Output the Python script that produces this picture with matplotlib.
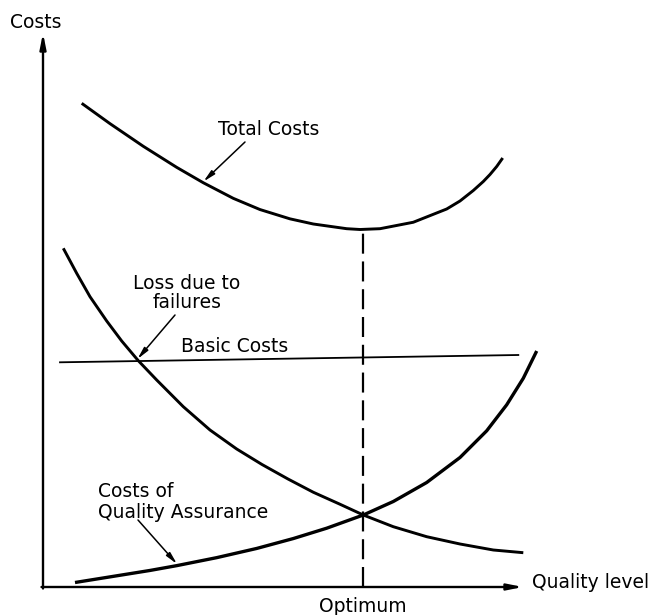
import matplotlib
matplotlib.use("Agg")
import matplotlib.pyplot as plt

# ---- data (arbitrary units: quality level 0..100, costs 0..110) ----
total_x = [7.74, 13.4, 20.06, 26.74, 32.06, 38.06, 43.4, 49.4, 54.06, 60.74, 63.4,
           67.4, 74.06, 80.74, 83.4, 86.06, 88.06, 89.4, 90.74, 91.94]
total_y = [96.74, 92.67, 88.14, 83.93, 80.85, 77.73, 75.49, 73.63, 72.6, 71.66, 71.5,
           71.66, 72.95, 75.6, 77.2, 79.3, 81.1, 82.5, 84.1, 85.8]

loss_x = [4.06, 6.74, 9.4, 12.74, 15.74, 19.06, 22.74, 28.06, 33.4, 38.74, 43.8,
          49.0, 54.06, 59.4, 64.06, 70.06, 76.74, 83.4, 90.06, 96.06]
loss_y = [67.74, 62.74, 58.06, 53.2, 49.2, 45.26, 41.4, 36.06, 31.4, 27.6, 24.5,
          21.6, 18.95, 16.55, 14.4, 12.06, 10.06, 8.6, 7.4, 6.86]

qa_x = [6.4, 14.74, 21.4, 26.74, 34.74, 42.74, 50.06, 56.74, 64.06, 70.06, 76.74,
        83.4, 88.74, 92.74, 96.06, 98.74]
qa_y = [0.9, 2.24, 3.31, 4.27, 5.87, 7.71, 9.69, 11.76, 14.4, 17.1, 20.9,
        25.9, 31.24, 36.44, 41.75, 47.2]

basic_x = [3.4, 95.06]
basic_y = [44.94, 46.4]

optimum_x = 64.0
optimum_cost = 71.5

# ---- figure ----
fig = plt.figure(figsize=(6.53, 6.15), dpi=100)
ax = fig.add_axes([0, 0, 1, 1])
ax.set_xlim(-8.6, 122.0)
ax.set_ylim(-5.6, 117.4)
ax.axis("off")

lw = 2.1
style = dict(color="black", solid_capstyle="butt", solid_joinstyle="round")
ax.plot(total_x, total_y, lw=lw, **style)
ax.plot(loss_x, loss_y, lw=lw, **style)
ax.plot(qa_x, qa_y, lw=lw + 0.3, **style)
ax.plot(basic_x, basic_y, color="black", lw=1.3)
ax.plot([optimum_x, optimum_x], [0, optimum_cost], color="black", lw=1.6,
        dashes=(9.0, 3.5))

# axes with arrows
ax.annotate("", xy=(0, 110.8), xytext=(0, -0.3),
            arrowprops=dict(arrowstyle="-|>,head_length=0.9,head_width=0.18",
                            lw=1.7, color="black", shrinkA=0, shrinkB=0))
ax.annotate("", xy=(96.0, 0), xytext=(-0.3, 0),
            arrowprops=dict(arrowstyle="-|>,head_length=0.9,head_width=0.18",
                            lw=1.7, color="black", shrinkA=0, shrinkB=0))

fs = 13.5
ax.text(-6.6, 112.8, "Costs", fontsize=fs, ha="left", va="center")
ax.text(97.8, 0.8, "Quality level", fontsize=fs, ha="left", va="center")
ax.text(optimum_x, -3.9, "Optimum", fontsize=fs, ha="center", va="center")
ax.text(35.0, 91.4, "Total Costs", fontsize=fs, ha="left", va="center")
ax.text(28.8, 58.8, "Loss due to\nfailures", fontsize=fs, ha="center", va="center",
        multialignment="center", linespacing=1.0)
ax.text(38.4, 48.1, "Basic Costs", fontsize=fs, ha="center", va="center")
ax.text(11.0, 17.0, "Costs of\nQuality Assurance", fontsize=fs, ha="left", va="center",
        multialignment="left", linespacing=1.1)

arrow_kw = dict(arrowstyle="-|>,head_length=0.7,head_width=0.15", lw=1.1,
                color="black", shrinkA=0, shrinkB=0)
ax.annotate("", xy=(32.1, 81.1), xytext=(40.4, 89.0), arrowprops=arrow_kw)
ax.annotate("", xy=(18.9, 45.6), xytext=(26.4, 54.4), arrowprops=arrow_kw)
ax.annotate("", xy=(26.8, 4.6), xytext=(19.0, 13.4), arrowprops=arrow_kw)

fig.savefig("out.png", dpi=100, facecolor="white")
